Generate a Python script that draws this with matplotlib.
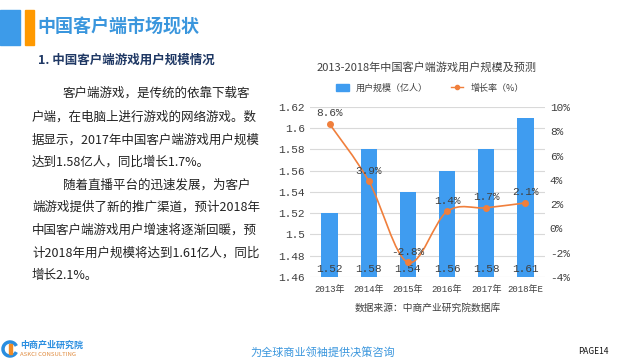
import matplotlib.pyplot as plt
import numpy as np
from matplotlib.patches import Rectangle, Patch, PathPatch, Arc
from matplotlib.lines import Line2D
from matplotlib.path import Path

plt.rcParams['font.family'] = ['Noto Sans CJK SC', 'DejaVu Sans']
MONO = ['Liberation Mono', 'Noto Sans CJK SC']

years = ['2013年', '2014年', '2015年', '2016年', '2017年', '2018年E']
users = [1.52, 1.58, 1.54, 1.56, 1.58, 1.61]        # 亿人
growth = [8.6, 3.9, -2.8, 1.4, 1.7, 2.1]            # %

body_lines = [
    '客户端游戏，是传统的依靠下载客',
    '户端，在电脑上进行游戏的网络游戏。数',
    '据显示，2017年中国客户端游戏用户规模',
    '达到1.58亿人，同比增长1.7%。',
    '随着直播平台的迅速发展，为客户',
    '端游戏提供了新的推广渠道，预计2018年',
    '中国客户端游戏用户增速将逐渐回暖，预',
    '计2018年用户规模将达到1.61亿人，同比',
    '增长2.1%。',
]
indented = [0, 4]

W, H = 625, 360
BLUE = '#3f9cf0'
ORANGE = '#f07f3c'


def px(x, y):
    return x / W, 1 - y / H


fig = plt.figure(figsize=(6.25, 3.6), dpi=100)

## header
fig.patches.append(Rectangle(px(0, 45), 20 / W, 35 / H, color='#3d9be9', transform=fig.transFigure))
fig.patches.append(Rectangle(px(25, 45), 9 / W, 35 / H, color='#ff9900', transform=fig.transFigure))
fig.text(*px(37, 27), '中国客户端市场现状', color='#3a96dd', fontsize=13, fontweight='bold', va='center')
fig.text(*px(38, 60), '1. 中国客户端游戏用户规模情况', color='#1f3864', fontsize=9, fontweight='bold', va='center')

## body text
line_y = [93, 117, 140, 162, 185, 207, 230, 253, 275]
for i, (txt, y) in enumerate(zip(body_lines, line_y)):
    x = 63 if i in indented else 32
    fig.text(*px(x, y), txt, color='#222222', fontsize=9, va='center')

## chart
ax = fig.add_axes([310 / W, 1 - 277 / H, 235 / W, 170 / H])
xs = np.arange(len(years))
ax.bar(xs, users, width=0.42, color=BLUE, zorder=2)
ax.set_ylim(1.46, 1.62)
ticks = np.round(np.arange(1.46, 1.621, 0.02), 2)
ax.set_yticks(ticks)
ax.set_yticklabels([f'{v:g}' for v in ticks], family=MONO)
ax.set_xlim(-0.5, len(years) - 0.5)
ax.set_xticks(xs)
ax.set_xticklabels(years, family=MONO)
ax.grid(axis='y', color='#d9d9d9', linewidth=0.8, zorder=0)
ax.set_axisbelow(True)
for s in ax.spines.values():
    s.set_visible(False)
ax.tick_params(length=0, labelsize=8, colors='#404040')
ax.tick_params(axis='x', labelsize=6.5, pad=6)
for x, v in zip(xs, users):
    ax.annotate(f'{v:.2f}', (x, 1.46), xytext=(0, 2), textcoords='offset points',
                ha='center', va='bottom', fontsize=8, color='#404040', zorder=4, family=MONO)

ax2 = ax.twinx()
ax2.set_ylim(-4, 10)
ax2.set_yticks(range(-4, 11, 2))
ax2.set_yticklabels([f'{v}%' for v in range(-4, 11, 2)], family=MONO)
for s in ax2.spines.values():
    s.set_visible(False)
ax2.tick_params(length=0, labelsize=8, colors='#404040')

# smoothed growth line (Catmull-Rom through the data points)
pts = np.column_stack([xs, growth]).astype(float)
verts = [pts[0]]
codes = [Path.MOVETO]
for i in range(len(pts) - 1):
    p0 = pts[max(i - 1, 0)]
    p1 = pts[i]
    p2 = pts[i + 1]
    p3 = pts[min(i + 2, len(pts) - 1)]
    verts += [p1 + (p2 - p0) / 6, p2 - (p3 - p1) / 6, p2]
    codes += [Path.CURVE4] * 3
ax2.add_patch(PathPatch(Path(verts, codes), fill=False, edgecolor=ORANGE, linewidth=1.2, zorder=3))
ax2.plot(xs, growth, 'o', color=ORANGE, markersize=4, zorder=4)
for x, g in zip(xs, growth):
    ax2.annotate(f'{g:.1f}%', (x, g), xytext=(0, 4), textcoords='offset points',
                 ha='center', va='bottom', fontsize=8, color='#404040', family=MONO)

fig.text(*px(427, 67), '2013-2018年中国客户端游戏用户规模及预测', ha='center', va='center',
         fontsize=8, color='#404040')
handles = [Patch(color=BLUE), Line2D([], [], color=ORANGE, marker='o', markersize=3, linewidth=1)]
fig.legend(handles, ['用户规模（亿人）', '增长率（%）'], loc='center', bbox_to_anchor=px(430, 88),
           ncol=2, frameon=False, fontsize=6.5, handlelength=1.4, handleheight=0.8,
           columnspacing=2.5, labelcolor='#404040')
fig.text(*px(428, 308), '数据来源：中商产业研究院数据库', ha='center', va='center', fontsize=7, color='#404040')

## footer
fig.patches.append(Arc(px(10, 349), 14 / W, 14 / H, theta1=40, theta2=320, color='#2a8ee0',
                       linewidth=2.5, transform=fig.transFigure))
fig.patches.append(Rectangle(px(9, 354), 3 / W, 10 / H, color='#f08a24', transform=fig.transFigure))
fig.text(*px(20, 345), '中商产业研究院', color='#2a8ee0', fontsize=6.5, fontweight='bold', va='center')
fig.text(*px(20, 354), 'ASKCI CONSULTING', color='#e08a3c', fontsize=4.3, va='center')
fig.text(*px(250, 352), '为全球商业领袖提供决策咨询', color='#3a96dd', fontsize=8, va='center', style='italic')
fig.text(*px(578, 351), 'PAGE14', color='#111111', fontsize=6, va='center')

fig.savefig('out.png', dpi=100)
